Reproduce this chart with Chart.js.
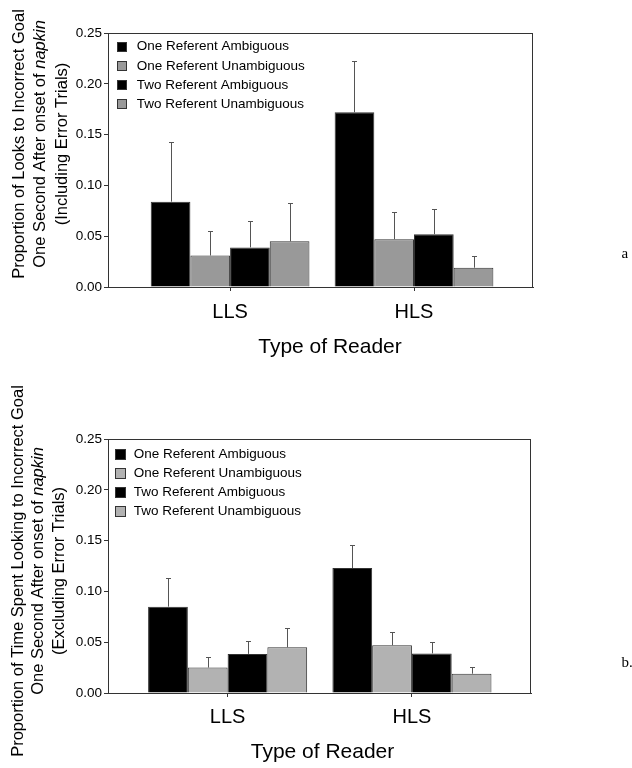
<!DOCTYPE html>
<html><head><meta charset="utf-8">
<script src="https://cdn.jsdelivr.net/npm/chart.js@4.4.1/dist/chart.umd.min.js"></script>
<style>
html,body{margin:0;padding:0;background:#fff;}
#wrap{position:relative;width:632px;height:768px;overflow:hidden;}
.panel{position:absolute;left:0;width:632px;height:384px;}
</style></head><body>
<div id="wrap">
<div class="panel" style="top:0"><canvas id="chartA"></canvas></div>
<div class="panel" style="top:384px"><canvas id="chartB"></canvas></div>
</div>
<script>
// ---------- data ----------
const groups = ['LLS', 'HLS'];
const seriesNames = ['One Referent Ambiguous', 'One Referent Unambiguous', 'Two Referent Ambiguous', 'Two Referent Unambiguous'];
const yTickValues = [0, 0.05, 0.10, 0.15, 0.20, 0.25];

// Panel a: proportion of looks (including error trials)
const aOneAmb = [0.084, 0.172];
const aOneUnamb = [0.031, 0.047];
const aTwoAmb = [0.039, 0.052];
const aTwoUnamb = [0.045, 0.019];
const aOneAmbErr = [0.059, 0.050];
const aOneUnambErr = [0.024, 0.027];
const aTwoAmbErr = [0.026, 0.025];
const aTwoUnambErr = [0.038, 0.012];

// Panel b: proportion of time spent looking (excluding error trials)
const bOneAmb = [0.085, 0.123];
const bOneUnamb = [0.025, 0.047];
const bTwoAmb = [0.0385, 0.039];
const bTwoUnamb = [0.045, 0.019];
const bOneAmbErr = [0.0285, 0.023];
const bOneUnambErr = [0.0105, 0.0135];
const bTwoAmbErr = [0.013, 0.0116];
const bTwoUnambErr = [0.0186, 0.0063];

// ---------- styling ----------
const SANS = "'Liberation Sans', Arial, Helvetica, sans-serif";
const SERIF = "'Liberation Serif', 'Times New Roman', serif";
const LINE = '#333333';

const errorBarPlugin = {
  id: 'errorBars',
  afterDatasetsDraw(chart) {
    const ctx = chart.ctx;
    const yScale = chart.scales.y;
    ctx.save();
    ctx.strokeStyle = '#555555';
    ctx.lineWidth = 1;
    chart.data.datasets.forEach((ds, i) => {
      const meta = chart.getDatasetMeta(i);
      meta.data.forEach((bar, j) => {
        const v = ds.data[j];
        const e = ds.errors[j];
        const x = Math.round(bar.x) + 0.5;
        const y0 = bar.y;
        const y1 = Math.round(yScale.getPixelForValue(v + e)) + 0.5;
        ctx.beginPath();
        ctx.moveTo(x, y0);
        ctx.lineTo(x, y1);
        ctx.moveTo(x - 2.5, y1);
        ctx.lineTo(x + 2.5, y1);
        ctx.stroke();
      });
    });
    ctx.restore();
  }
};

const framePlugin = {
  id: 'frameAndText',
  afterDraw(chart, args, o) {
    const ctx = chart.ctx;
    const a = chart.chartArea;
    ctx.save();
    // plot frame
    ctx.strokeStyle = LINE;
    ctx.lineWidth = 1;
    ctx.strokeRect(Math.round(a.left) + 0.5, Math.round(a.top) + 0.5,
      Math.round(a.right - a.left) - 1, Math.round(a.bottom - a.top));

    // legend
    ctx.textAlign = 'left';
    ctx.textBaseline = 'middle';
    ctx.font = '13.5px ' + SANS;
    chart.data.datasets.forEach((ds, i) => {
      const cy = a.top + o.legend.firstRow + i * o.legend.rowGap;
      const bx = a.left + o.legend.boxX;
      const s = o.legend.box;
      ctx.fillStyle = ds.backgroundColor;
      ctx.fillRect(bx, Math.round(cy - s / 2), s, s);
      ctx.strokeStyle = LINE;
      ctx.strokeRect(bx + 0.5, Math.round(cy - s / 2) + 0.5, s - 1, s - 1);
      ctx.fillStyle = '#000';
      ctx.fillText(ds.label, a.left + o.legend.textX, cy);
    });

    // y-axis title (rotated, with italic word)
    ctx.fillStyle = '#000';
    o.yTitle.forEach((line, k) => {
      ctx.save();
      ctx.translate(o.yTitleX[k], o.yTitleY);
      ctx.rotate(-Math.PI / 2);
      ctx.textBaseline = 'middle';
      ctx.textAlign = 'left';
      let total = 0;
      line.forEach(part => {
        ctx.font = (part.i ? 'italic ' : '') + '16.5px ' + SANS;
        total += ctx.measureText(part.t).width;
      });
      let x = -total / 2;
      line.forEach(part => {
        ctx.font = (part.i ? 'italic ' : '') + '16.5px ' + SANS;
        ctx.fillText(part.t, x, 0);
        x += ctx.measureText(part.t).width;
      });
      ctx.restore();
    });

    // x-axis title
    ctx.font = '21px ' + SANS;
    ctx.textAlign = 'center';
    ctx.textBaseline = 'middle';
    ctx.fillText(o.xTitle, o.xTitleX, o.xTitleY);

    // panel tag
    ctx.font = '15px ' + SERIF;
    ctx.textAlign = 'left';
    ctx.textBaseline = 'alphabetic';
    ctx.fillText(o.tag, o.tagX, o.tagY);
    ctx.restore();
  }
};

function makeChart(id, series, errors, colors, L) {
  const datasets = series.map((vals, i) => ({
    label: seriesNames[i],
    data: vals,
    errors: errors[i],
    backgroundColor: colors[i],
    borderColor: LINE,
    borderWidth: 1,
    categoryPercentage: 0.863,
    barPercentage: 1.0
  }));
  return new Chart(document.getElementById(id), {
    type: 'bar',
    data: { labels: groups.map((g, i) => i), datasets },
    plugins: [errorBarPlugin, framePlugin],
    options: {
      responsive: true,
      maintainAspectRatio: false,
      animation: false,
      devicePixelRatio: 1,
      layout: { padding: { top: L.top, right: L.right, left: 0, bottom: 0 } },
      plugins: {
        legend: { display: false },
        tooltip: { enabled: false },
        frameAndText: L.text
      },
      scales: {
        x: {
          type: 'linear',
          min: L.xMin, max: L.xMax,
          offset: false,
          afterBuildTicks: s => { s.ticks = groups.map((g, i) => ({ value: i })); },
          afterFit: s => { s.height = L.xHeight; },
          ticks: {
            callback: v => groups[v] ?? '',
            font: { family: SANS, size: 20 },
            color: '#000',
            padding: L.xPad,
            maxRotation: 0
          },
          grid: { display: true, drawOnChartArea: false, drawTicks: true, tickLength: 4, color: LINE, offset: false },
          border: { display: true, color: LINE, width: 1 }
        },
        y: {
          min: 0, max: 0.25,
          afterBuildTicks: s => { s.ticks = yTickValues.map(v => ({ value: v })); },
          afterFit: s => { s.width = 108; },
          ticks: {
            callback: v => v.toFixed(2),
            font: { family: SANS, size: 13.5 },
            color: '#000',
            padding: 2
          },
          grid: { display: true, drawOnChartArea: false, drawTicks: true, tickLength: 4, color: LINE },
          border: { display: true, color: LINE, width: 1 }
        }
      }
    }
  });
}

makeChart('chartA',
  [aOneAmb, aOneUnamb, aTwoAmb, aTwoUnamb],
  [aOneAmbErr, aOneUnambErr, aTwoAmbErr, aTwoUnambErr],
  ['#000000', '#999999', '#000000', '#999999'],
  {
    top: 33, right: 99, xHeight: 97, xPad: 9.7, xMin: -0.6638, xMax: 1.647,
    text: {
      legend: { firstRow: 13.7, rowGap: 19.1, boxX: 9, textX: 28.7, box: 10 },
      yTitle: [
        [{ t: 'Proportion of Looks to Incorrect Goal', i: false }],
        [{ t: 'One Second After onset of ', i: false }, { t: 'napkin', i: true }],
        [{ t: '(Including Error Trials)', i: false }]
      ],
      yTitleX: [19, 40.5, 62], yTitleY: 144,
      xTitle: 'Type of Reader', xTitleX: 330, xTitleY: 347,
      tag: 'a', tagX: 621.5, tagY: 258
    }
  });

makeChart('chartB',
  [bOneAmb, bOneUnamb, bTwoAmb, bTwoUnamb],
  [bOneAmbErr, bOneUnambErr, bTwoAmbErr, bTwoUnambErr],
  ['#000000', '#b2b2b2', '#000000', '#b2b2b2'],
  {
    top: 55, right: 101, xHeight: 75, xPad: 8, xMin: -0.649, xMax: 1.646,
    text: {
      legend: { firstRow: 15, rowGap: 19.1, boxX: 7, textX: 25.7, box: 11 },
      yTitle: [
        [{ t: 'Proportion of Time Spent Looking to Incorrect Goal', i: false }],
        [{ t: 'One Second After onset of ', i: false }, { t: 'napkin', i: true }],
        [{ t: '(Excluding Error Trials)', i: false }]
      ],
      yTitleX: [18, 38.5, 59.5], yTitleY: 187,
      xTitle: 'Type of Reader', xTitleX: 322.5, xTitleY: 368.7,
      tag: 'b.', tagX: 621.5, tagY: 282.7
    }
  });
</script>
</body></html>
